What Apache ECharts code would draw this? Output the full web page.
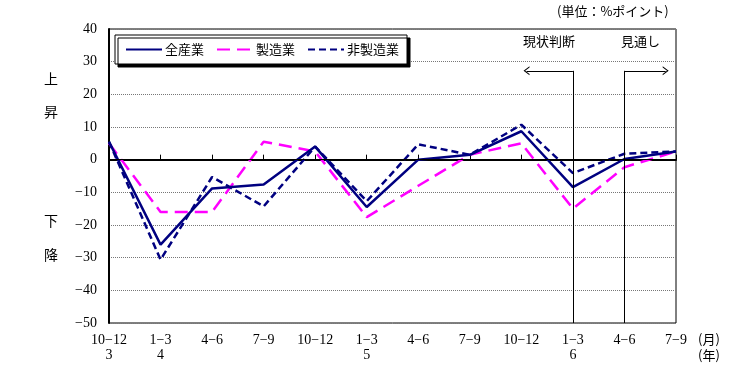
<!DOCTYPE html>
<html style="height: 100%">
<head>
<meta charset="utf-8">
<script src="https://cdn.jsdelivr.net/npm/echarts@6/dist/echarts.min.js"></script>
<style>
  body { margin: 0; background: #fff; }
  #container { width: 749px; height: 377px; }
</style>
</head>
<body>
<div id="container"></div>
<script>
// quarters (month ranges) and the year shown under some of them
var months = ['10−12', '1−3', '4−6', '7−9', '10−12', '1−3', '4−6', '7−9', '10−12', '1−3', '4−6', '7−9'];
var years  = ['3', '4', '', '', '', '5', '', '', '', '6', '', ''];

var seriesNames = ['全産業', '製造業', '非製造業'];
var allIndustry = [5.5, -26, -8.8, -7.6, 4, -14.5, 0, 1.5, 8.7, -8.4, 0.2, 2.5];
var manufacturing = [5, -16, -16, 5.5, 2.5, -17.6, -8, 1.5, 5, -15, -2.3, 2.5];
var nonManufacturing = [5.5, -30.6, -5.3, -14.3, 4, -12.7, 4.7, 1.5, 10.7, -4.1, 1.8, 2.5];

// arrows: 現状判断 goes back from 1-3 (index 9), 見通し goes forward from 4-6 (index 10)
var arrowY = 27.2;
var judgeIdx = 9, judgeEnd = 8.1;
var outlookIdx = 10, outlookEnd = 10.8;

var serif = '"Liberation Serif", "DejaVu Serif", serif';
var jp = 'Noto Sans CJK JP, sans-serif';

var labels = months.map(function (m, i) {
  return years[i] ? m + '\n' + years[i] : m;
});

var chevron = 'path://M5,0 L10,10 L8.6,10 L5,2.8 L1.4,10 L0,10 Z';

var myChart = echarts.init(document.getElementById('container'));
var option = {
  animation: false,
  backgroundColor: '#fff',
  grid: {
    left: 109, right: 73, top: 29, bottom: 54,
    show: true, borderColor: '#000', borderWidth: 1
  },
  legend: {
    left: 115, top: 35,
    padding: [8, 8, 8, 10],
    itemWidth: 36, itemHeight: 12, itemGap: 12,
    backgroundColor: '#fff',
    borderColor: '#000', borderWidth: 1,
    shadowColor: '#000', shadowOffsetX: 3, shadowOffsetY: 3, shadowBlur: 0.1,
    itemStyle: { opacity: 0 },
    textStyle: { fontFamily: jp, fontSize: 13, color: '#000', padding: [0, 0, 0, -2] },
    data: seriesNames
  },
  xAxis: [{
    type: 'category',
    data: labels,
    boundaryGap: false,
    axisLine: { lineStyle: { color: '#000', width: 2 } },
    axisTick: { inside: true, length: 5, alignWithLabel: true, lineStyle: { color: '#000' } },
    axisLabel: { fontFamily: serif, fontSize: 14, color: '#000', lineHeight: 15, margin: 10, interval: 0 },
    splitLine: { show: false }
  }, {
    type: 'value', min: 0, max: 11, show: false, position: 'bottom'
  }],
  yAxis: {
    type: 'value', min: -50, max: 40, interval: 10,
    axisLine: { show: true, lineStyle: { color: '#000', width: 2 } },
    axisTick: { show: false },
    axisLabel: {
      fontFamily: serif, fontSize: 14, color: '#000', margin: 12,
      formatter: function (v) { return v < 0 ? '−' + Math.abs(v) : String(v); }
    },
    splitLine: { lineStyle: { color: '#777', type: [1, 1], width: 1 } }
  },
  graphic: [
    { type: 'text', left: 557, top: 5, style: { text: '(単位：%ポイント)', font: '13px ' + jp, fill: '#000' } },
    { type: 'text', left: 523, top: 35, style: { text: '現状判断', font: '13px ' + jp, fill: '#000' } },
    { type: 'text', left: 621, top: 35, style: { text: '見通し', font: '13px ' + jp, fill: '#000' } },
    { type: 'text', left: 44, top: 72, style: { text: '上', font: '14px ' + jp, fill: '#000' } },
    { type: 'text', left: 44, top: 105, style: { text: '昇', font: '14px ' + jp, fill: '#000' } },
    { type: 'text', left: 44, top: 214, style: { text: '下', font: '14px ' + jp, fill: '#000' } },
    { type: 'text', left: 44, top: 248, style: { text: '降', font: '14px ' + jp, fill: '#000' } },
    { type: 'text', left: 698, top: 333, style: { text: '(月)', font: '13px ' + jp, fill: '#000' } },
    { type: 'text', left: 698, top: 349, style: { text: '(年)', font: '13px ' + jp, fill: '#000' } }
  ],
  series: [
    {
      // annotation layer: zero line, period dividers, arrows
      type: 'line', xAxisIndex: 1, data: [], silent: true,
      markLine: {
        silent: true, animation: false,
        label: { show: false },
        symbol: 'none',
        lineStyle: { color: '#000', width: 1, type: 'solid' },
        data: [
          [{ coord: [0, 0] }, { coord: [11, 0] }],
          [{ coord: [judgeIdx, arrowY] }, { coord: [judgeIdx, -50] }],
          [{ coord: [outlookIdx, arrowY] }, { coord: [outlookIdx, -50] }],
          [{ coord: [judgeIdx, arrowY], symbol: 'none' }, { coord: [judgeEnd, arrowY], symbol: chevron, symbolSize: [9, 6] }],
          [{ coord: [outlookIdx, arrowY], symbol: 'none' }, { coord: [outlookEnd, arrowY], symbol: chevron, symbolSize: [9, 6] }]
        ]
      }
    },
    {
      name: seriesNames[1], type: 'line', data: manufacturing,
      symbol: 'none', color: '#ff00ff',
      lineStyle: { color: '#ff00ff', width: 2.5, type: [13, 7] }
    },
    {
      name: seriesNames[2], type: 'line', data: nonManufacturing,
      symbol: 'none', color: '#000080',
      lineStyle: { color: '#000080', width: 2.5, type: [7, 4] }
    },
    {
      name: seriesNames[0], type: 'line', data: allIndustry,
      symbol: 'none', color: '#000080',
      lineStyle: { color: '#000080', width: 2.5, type: 'solid' }
    }
  ]
};
myChart.setOption(option);
</script>
</body>
</html>
